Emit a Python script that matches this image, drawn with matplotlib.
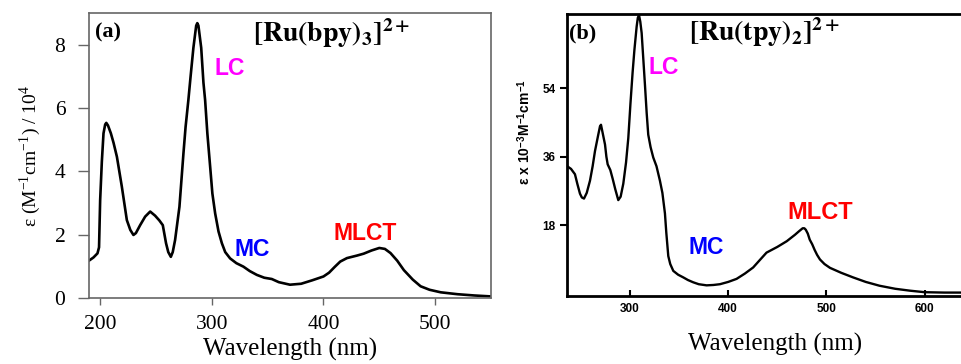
import numpy as np
import matplotlib
matplotlib.use("Agg")
import matplotlib.pyplot as plt

plt.rcParams['mathtext.fontset'] = 'stix'

# (a) [Ru(bpy)3]2+ , epsilon / 10^4
wl_a = [190, 194, 197.6, 199, 200, 201.5, 203, 204.5, 205.5, 207, 209.6, 212, 215, 219.4,
        223.9, 227, 229.8, 232, 235.8, 240.3, 244.8, 249.2, 253, 256.1, 259, 261, 263.3,
        265, 267.1, 271, 274.6, 276.5, 279, 281, 283.5, 286, 287, 288, 290.5, 292.5,
        294, 296, 298.5, 300.5, 303, 306, 309, 312, 316.4, 322, 328.3, 334, 340.3, 347,
        353.7, 360, 370, 380, 390, 400, 405, 410, 415, 421, 430, 436, 443, 450, 455,
        460, 466, 472, 480, 487, 495, 505, 520, 535, 550]
eps_a = [1.18, 1.28, 1.41, 1.6, 3.09, 4.3, 5.2, 5.48, 5.53, 5.45, 5.2, 4.9, 4.46, 3.52,
         2.46, 2.15, 1.99, 2.05, 2.3, 2.57, 2.73, 2.6, 2.45, 2.3, 1.73, 1.45, 1.3,
         1.45, 1.83, 2.88, 4.57, 5.4, 6.25, 7.0, 7.9, 8.6, 8.68, 8.6, 7.9, 6.8,
         6.25, 5.2, 4.15, 3.3, 2.67, 2.1, 1.73, 1.45, 1.25, 1.1, 0.99, 0.85, 0.73, 0.64,
         0.6, 0.5, 0.42, 0.45, 0.56, 0.68, 0.8, 0.98, 1.15, 1.26, 1.34, 1.4, 1.5, 1.58,
         1.55, 1.42, 1.18, 0.88, 0.58, 0.37, 0.26, 0.18, 0.12, 0.08, 0.05]

# (b) [Ru(tpy)2]2+ , epsilon x 10^-3
wl_b = [235.6, 240, 244, 246.5, 249.1, 251, 253.2, 256, 259.3, 262, 264.4, 267.5, 269.5,
        270.5, 272, 274.6, 276, 277.3, 280, 282.4, 285, 288.1, 290.5, 293.2, 296, 298.3,
        300.5, 302.7, 304.5, 306.8, 308, 309.2, 310.5, 311.9, 313.5, 315.3, 317, 318.6,
        321, 323.7, 327, 330.5, 333, 335.6, 337, 339, 341, 344.1, 349, 354.2, 359,
        364.4, 370, 378, 385, 391.6, 400, 408.5, 417, 425.4, 432, 439, 450, 459.6, 468,
        472, 475.8, 477.5, 479, 481, 483, 485.5, 488, 490.5, 493.4, 498, 503.6, 515,
        527, 540, 554, 570, 585, 600, 620, 640]
eps_b = [33.6, 32.8, 31.4, 28.8, 26.3, 25.3, 25.0, 26.5, 29.7, 33.5, 37.5, 41.5, 44.0,
         44.4, 42.5, 39.2, 36.0, 34.0, 32.5, 30.2, 27.5, 24.6, 25.5, 28.9, 34.5, 40.9,
         50.0, 58.2, 64.0, 70.2, 72.5, 73.2, 71.5, 68.5, 62.0, 54.7, 47.5, 41.8,
         38.5, 35.8, 33.5, 29.7, 26.5, 21.1, 16.0, 9.9, 7.8, 6.0, 5.0, 4.3, 3.6,
         3.0, 2.5, 2.2, 2.3, 2.5, 3.1, 3.9, 5.3, 6.9, 8.8, 10.8, 12.3, 13.8, 15.5,
         16.4, 17.2, 17.2, 16.8, 15.8, 14.2, 13.0, 11.5, 10.2, 9.0, 7.8, 6.8, 5.5,
         4.3, 3.1, 2.1, 1.3, 0.8, 0.4, 0.3, 0.3]

xticks_a = [200, 300, 400, 500]
yticks_a = [0, 2, 4, 6, 8]
xticks_b = [300, 400, 500, 600]
yticks_b = [18, 36, 54]

serif = 'Liberation Serif'
sans = 'Liberation Sans'

fig = plt.figure(figsize=(9.61, 3.64), dpi=100)

# ---- panel (a)
ax1 = fig.add_axes([0.0926, 0.1813, 0.4183, 0.783])
ax1.plot(wl_a, eps_a, color='black', lw=1.9)
ax1.set_xlim(190, 550)
ax1.set_ylim(0, 9.0)
ax1.set_xticks(xticks_a)
ax1.set_yticks(yticks_a)
for s in ax1.spines.values():
    s.set_color('#666666')
    s.set_linewidth(1.2)
ax1.tick_params(direction='out', length=5, width=1, color='#666666',
                labelsize=15.5, pad=7)
ax1.tick_params(axis='y', length=8, pad=9)
for lab in ax1.get_xticklabels() + ax1.get_yticklabels():
    lab.set_fontfamily(serif)
ax1.set_xlabel('Wavelength (nm)', fontfamily=serif, fontsize=18)
ax1.xaxis.set_label_coords(0.5, -0.14)
ax1.set_ylabel(r'ε (M$^{\mathregular{-1}}$cm$^{\mathregular{-1}}$) / 10$^{\mathregular{4}}$',
               fontfamily=serif, fontsize=14, labelpad=8)
ax1.text(0.015, 0.965, '(a)', transform=ax1.transAxes, fontfamily=serif,
         fontweight='bold', fontsize=16, va='top')
ax1.text(0.408, 0.99, r'$\mathbf{[Ru(bpy)_3]^{2+}}$', transform=ax1.transAxes,
         fontsize=20, va='top')
ax1.text(302, 7.26, 'LC', color='#ff00ff', fontfamily=sans, fontweight='bold',
         fontsize=16.5, va='center')
ax1.text(320, 1.52, 'MC', color='#0000ff', fontfamily=sans, fontweight='bold',
         fontsize=16.5, va='center')
ax1.text(408.6, 2.05, 'MLCT', color='#ff0000', fontfamily=sans, fontweight='bold',
         fontsize=16.5, va='center')

# ---- panel (b)
ax2 = fig.add_axes([0.5897, 0.1868, 0.4134, 0.7747])
ax2.plot(wl_b, eps_b, color='black', lw=1.7)
ax2.set_xlim(235.6, 640)
ax2.set_ylim(-0.6, 73.5)
ax2.set_xticks(xticks_b)
ax2.set_yticks(yticks_b)
for s in ax2.spines.values():
    s.set_color('black')
    s.set_linewidth(2)
ax2.spines['right'].set_visible(False)
ax2.tick_params(axis='x', direction='in', length=4, width=1.5, labelsize=8.5, pad=5)
ax2.tick_params(axis='y', direction='out', length=5, width=1.5, labelsize=8.5, pad=3)
for lab in ax2.get_xticklabels() + ax2.get_yticklabels():
    lab.set_fontfamily(sans)
    lab.set_fontweight('bold')
ax2.set_xlabel('Wavelength (nm)', fontfamily=serif, fontsize=18)
ax2.xaxis.set_label_coords(0.525, -0.13)
ax2.set_ylabel(r'ε x 10$^{\mathregular{-3}}$M$^{\mathregular{-1}}$cm$^{\mathregular{-1}}$',
               fontfamily=sans, fontweight='bold', fontsize=10)
ax2.yaxis.set_label_coords(-0.085, 0.58)
ax2.text(0.005, 0.965, '(b)', transform=ax2.transAxes, fontfamily=serif,
         fontweight='bold', fontsize=16, va='top')
ax2.text(0.308, 0.995, r'$\mathbf{[Ru(tpy)_2]^{2+}}$', transform=ax2.transAxes,
         fontsize=20, va='top')
ax2.text(319.3, 59.5, 'LC', color='#ff00ff', fontfamily=sans, fontweight='bold',
         fontsize=16.5, va='center')
ax2.text(360, 12.2, 'MC', color='#0000ff', fontfamily=sans, fontweight='bold',
         fontsize=16.5, va='center')
ax2.text(460.7, 21.3, 'MLCT', color='#ff0000', fontfamily=sans, fontweight='bold',
         fontsize=17, va='center')

fig.savefig('out.png', dpi=100)
